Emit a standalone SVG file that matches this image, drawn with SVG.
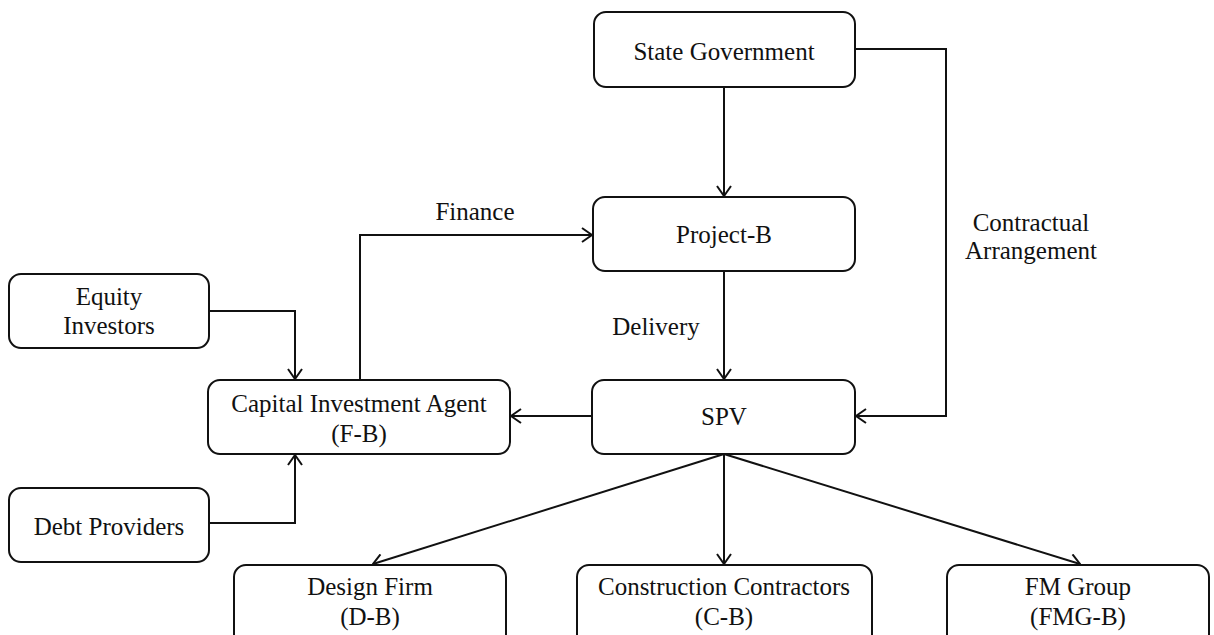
<svg xmlns="http://www.w3.org/2000/svg" width="1214" height="635" viewBox="0 0 1214 635">
  <style>
    .box { fill: #ffffff; stroke: #111111; stroke-width: 2; }
    .txt { font-family: "Liberation Serif", "Times New Roman", serif; font-size: 25px; fill: #111111; text-anchor: middle; }
    .link { fill: none; stroke: #111111; stroke-width: 2; marker-end: url(#arrow); }
  </style>
  <defs>
    <marker id="arrow" viewBox="0 0 12 16" refX="11" refY="8" markerWidth="12" markerHeight="16" markerUnits="userSpaceOnUse" orient="auto">
      <path d="M1,1 L11,8 L1,15" fill="none" stroke="#111111" stroke-width="2"/>
    </marker>
  </defs>

  <rect width="1214" height="635" fill="#ffffff"/>

  <!-- connectors -->
  <g id="connectors">
    <path class="link" d="M724,87 L724,196"/>
    <path class="link" d="M855,49 L946,49 L946,416 L856,416"/>
    <path class="link" d="M724,271 L724,379"/>
    <path class="link" d="M592,416 L511,416"/>
    <path class="link" d="M360,380 L360,235 L592,235"/>
    <path class="link" d="M209,311 L295,311 L295,379"/>
    <path class="link" d="M209,523 L295,523 L295,455"/>
    <path class="link" d="M724,454 L373,564"/>
    <path class="link" d="M724,454 L724,564"/>
    <path class="link" d="M724,454 L1080,564"/>
    <text class="txt" x="475" y="220">Finance</text>
    <text class="txt" x="656" y="335">Delivery</text>
    <text class="txt" x="1031" y="231">Contractual</text>
    <text class="txt" x="1031" y="259">Arrangement</text>
  </g>

  <g id="state-government">
    <rect class="box" x="594" y="12" width="261" height="75" rx="12"/>
    <text class="txt" x="724" y="60">State Government</text>
  </g>

  <g id="project-b">
    <rect class="box" x="593" y="197" width="262" height="74" rx="12"/>
    <text class="txt" x="724" y="243">Project-B</text>
  </g>

  <g id="spv">
    <rect class="box" x="592" y="380" width="263" height="74" rx="12"/>
    <text class="txt" x="724" y="425">SPV</text>
  </g>

  <g id="capital-investment-agent">
    <rect class="box" x="208" y="380" width="302" height="74" rx="12"/>
    <text class="txt" x="359" y="412">Capital Investment Agent</text>
    <text class="txt" x="359" y="442">(F-B)</text>
  </g>

  <g id="equity-investors">
    <rect class="box" x="9" y="274" width="200" height="74" rx="12"/>
    <text class="txt" x="109" y="305">Equity</text>
    <text class="txt" x="109" y="334">Investors</text>
  </g>

  <g id="debt-providers">
    <rect class="box" x="9" y="488" width="200" height="74" rx="12"/>
    <text class="txt" x="109" y="535">Debt Providers</text>
  </g>

  <g id="design-firm">
    <rect class="box" x="234" y="565" width="272" height="90" rx="12"/>
    <text class="txt" x="370" y="595">Design Firm</text>
    <text class="txt" x="370" y="625">(D-B)</text>
  </g>

  <g id="construction-contractors">
    <rect class="box" x="577" y="565" width="295" height="90" rx="12"/>
    <text class="txt" x="724" y="595">Construction Contractors</text>
    <text class="txt" x="724" y="625">(C-B)</text>
  </g>

  <g id="fm-group">
    <rect class="box" x="947" y="565" width="262" height="90" rx="12"/>
    <text class="txt" x="1078" y="595">FM Group</text>
    <text class="txt" x="1078" y="625">(FMG-B)</text>
  </g>
</svg>
